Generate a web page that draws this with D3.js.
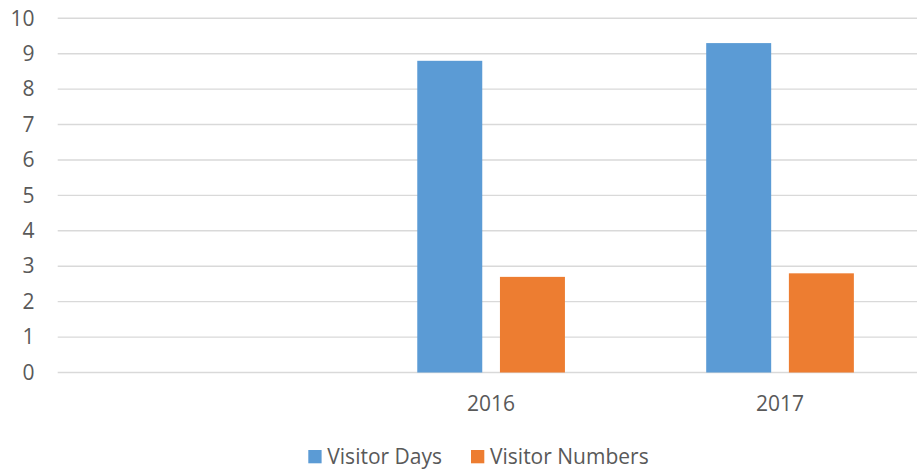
<!DOCTYPE html>
<html>
<head>
<meta charset="utf-8">
<script src="https://cdn.jsdelivr.net/npm/d3@7"></script>
<style>
  html, body { margin: 0; padding: 0; background: #fff; }
  svg { display: block; }
  text { font-family: "Open Sans", "Liberation Sans", sans-serif; fill: #595959; }
</style>
</head>
<body>
<svg id="chart" width="917" height="469"></svg>
<script>
// Categories (the first slot is an unnamed, empty year)
const categories = ["", "2016", "2017"];
const seriesNames = ["Visitor Days", "Visitor Numbers"];
const visitorDays = [null, 8.8, 9.3];
const visitorNumbers = [null, 2.7, 2.8];
const yTicks = [0, 1, 2, 3, 4, 5, 6, 7, 8, 9, 10];
const colors = ["#5B9BD5", "#ED7D31"];

const svg = d3.select("#chart");
const fontSize = 21;

const plotLeft = 57.7, plotRight = 924.5;
const plotTop = 18.3, plotBottom = 372.5;

const x = d3.scaleBand().domain(categories).range([plotLeft, plotRight]).paddingInner(0).paddingOuter(0);
const y = d3.scaleLinear().domain([0, 10]).range([plotBottom, plotTop]);

// Within each category: two bars with a wide gap between categories
const barW = x.bandwidth() * 65 / 289;
const innerGap = x.bandwidth() * 17.7 / 289;
const groupW = barW * 2 + innerGap;
const xs = d3.scaleOrdinal().domain(seriesNames).range([0, barW + innerGap]);

// Gridlines
svg.append("g")
  .selectAll("line")
  .data(yTicks)
  .join("line")
  .attr("x1", plotLeft)
  .attr("x2", plotRight)
  .attr("y1", d => y(d))
  .attr("y2", d => y(d))
  .attr("stroke", "#d9d9d9")
  .attr("stroke-width", 1.4);

// Y axis labels
const yAxis = d3.axisLeft(y).tickValues(yTicks).tickSize(0).tickPadding(0).tickFormat(d3.format("d"));
svg.append("g")
  .attr("transform", `translate(34.5,0)`)
  .call(yAxis)
  .call(g => g.select(".domain").remove())
  .call(g => g.selectAll("text")
    .attr("font-size", fontSize)
    .attr("fill", "#595959")
    .attr("font-family", "'Open Sans', sans-serif"));

// X axis labels
const xAxis = d3.axisBottom(x).tickSize(0).tickPadding(0);
svg.append("g")
  .attr("transform", `translate(0,${plotBottom})`)
  .call(xAxis)
  .call(g => g.select(".domain").remove())
  .call(g => g.selectAll("text")
    .attr("font-size", fontSize)
    .attr("fill", "#595959")
    .attr("font-family", "'Open Sans', sans-serif")
    .attr("dy", null)
    .attr("y", 38));

// Bars
const rows = categories.map((c, i) => ({ cat: c, vals: [visitorDays[i], visitorNumbers[i]] }));
const groups = svg.append("g")
  .selectAll("g")
  .data(rows)
  .join("g")
  .attr("transform", d => `translate(${x(d.cat) + (x.bandwidth() - groupW) / 2},0)`);

groups.selectAll("rect")
  .data(d => d.vals.map((v, j) => ({ name: seriesNames[j], v, j })).filter(e => e.v != null))
  .join("rect")
  .attr("x", d => xs(d.name))
  .attr("width", barW)
  .attr("y", d => y(d.v))
  .attr("height", d => y(0) - y(d.v))
  .attr("fill", d => colors[d.j]);

// Legend
const legendItems = [
  { name: seriesNames[0], color: colors[0], x: 308.3 },
  { name: seriesNames[1], color: colors[1], x: 471 }
];
const lg = svg.append("g").selectAll("g").data(legendItems).join("g")
  .attr("transform", d => `translate(${d.x},450)`);
lg.append("rect").attr("width", 13.3).attr("height", 13.3).attr("fill", d => d.color);
lg.append("text")
  .attr("x", 19)
  .attr("y", 13.8)
  .attr("font-size", fontSize)
  .text(d => d.name);
</script>
</body>
</html>
